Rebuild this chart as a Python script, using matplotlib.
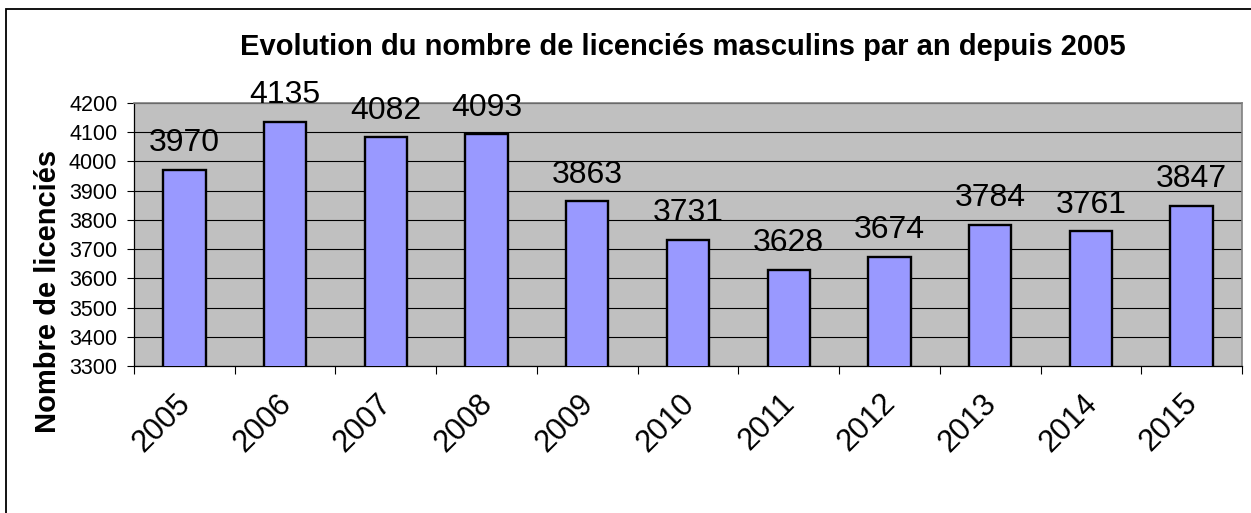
import numpy as np
import matplotlib
matplotlib.use('Agg')
import matplotlib.pyplot as plt
from matplotlib.patches import Rectangle
from matplotlib.transforms import ScaledTranslation

# ── Data ──────────────────────────────────────────────
years    = ['2005', '2006', '2007', '2008', '2009', '2010',
            '2011', '2012', '2013', '2014', '2015']
licencies = [3970, 4135, 4082, 4093, 3863, 3731,
             3628, 3674, 3784, 3761, 3847]
y_ticks  = [3300, 3400, 3500, 3600, 3700, 3800, 3900, 4000, 4100, 4200]

TITLE  = 'Evolution du nombre de licenciés masculins par an depuis 2005'
YLABEL = 'Nombre de licenciés'

plt.rcParams['font.family'] = ['Liberation Sans', 'DejaVu Sans']

W, H = 1251, 513
fig = plt.figure(figsize=(W / 100, H / 100), dpi=100)
ax = fig.add_axes([134 / W, 1 - 366 / H, (1242 - 134) / W, (366 - 103) / H])

# outer chart border (right / bottom edges fall outside the picture)
fig.patches.append(Rectangle((6 / W, -0.2), 1.2, 1 - 9 / H + 0.2,
                             transform=fig.transFigure, fill=False,
                             edgecolor='black', lw=1.3))

x = np.arange(len(years))
ax.set_facecolor('#C0C0C0')
ax.bar(x, licencies, width=0.42, color='#9999FF', edgecolor='black',
       lw=1.7, zorder=3)

for xi, v in zip(x, licencies):
    ax.annotate(str(v), (xi, v), xytext=(0, 13.5), textcoords='offset points',
                ha='center', va='baseline', fontsize=23, zorder=4)

ax.set_ylim(3300, 4200)
ax.set_xlim(-0.5, len(years) - 0.5)
ax.set_yticks(y_ticks)
ax.yaxis.grid(True, color='black', lw=0.8, zorder=1)
ax.set_axisbelow(True)
ax.tick_params(axis='y', direction='out', length=5, width=0.8,
               labelsize=15.5, pad=7)

ax.set_xticks(x)
ax.set_xticks(np.arange(len(years) + 1) - 0.5, minor=True)
ax.set_xticklabels(years, rotation=45, ha='right', va='top',
                   rotation_mode='anchor', fontsize=22)
ax.tick_params(axis='x', which='major', length=0, pad=16)
ax.tick_params(axis='x', which='minor', direction='out', length=6, width=0.8)
shift = ScaledTranslation(-9 / 100, 0, fig.dpi_scale_trans)
for lbl in ax.get_xticklabels():
    lbl.set_transform(lbl.get_transform() + shift)

for side in ('top', 'right'):
    ax.spines[side].set_color('#808080')
    ax.spines[side].set_linewidth(1.2)
for side in ('left', 'bottom'):
    ax.spines[side].set_color('black')
    ax.spines[side].set_linewidth(0.9)

fig.text(683 / W, 1 - 47 / H, TITLE, ha='center', va='center',
         fontsize=21, fontweight='bold')
fig.text(48 / W, 1 - 291 / H, YLABEL, ha='center', va='center',
         rotation=90, fontsize=21, fontweight='bold')

fig.savefig('out.png', dpi=100)
